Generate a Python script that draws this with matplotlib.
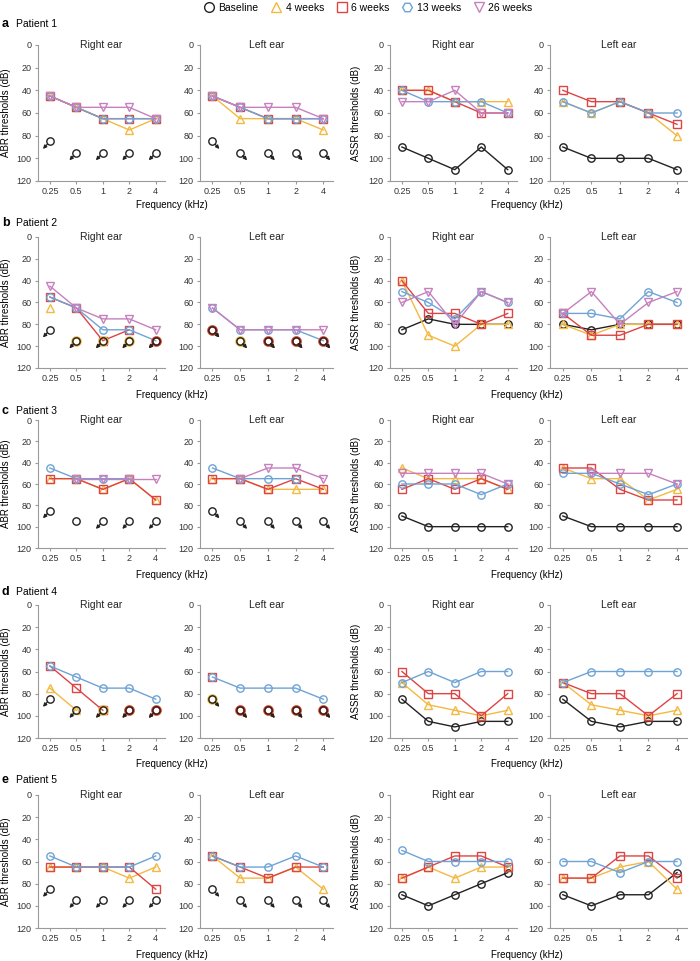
import matplotlib
matplotlib.use("Agg")
import matplotlib.pyplot as plt
import numpy as np
from matplotlib.lines import Line2D
from matplotlib.transforms import ScaledTranslation

plt.rcParams['font.family'] = ['Liberation Sans', 'DejaVu Sans']

freqs = ['0.25', '0.5', '1', '2', '4']
series = ['Baseline', '4 weeks', '6 weeks', '13 weeks', '26 weeks']
colors = {'Baseline': '#222222', '4 weeks': '#F4B942', '6 weeks': '#DD4444',
          '13 weeks': '#6FA3D6', '26 weeks': '#C680BD'}
markers = {'Baseline': 'o', '4 weeks': '^', '6 weeks': 's', '13 weeks': 'o', '26 weeks': 'v'}
N = None

# ---- Patient 1 ----
p1_abr_r = {'4 weeks': [45, 55, 65, 75, 65], '6 weeks': [45, 55, 65, 65, 65],
            '13 weeks': [45, 55, 65, 65, 65], '26 weeks': [45, 55, 55, 55, 65]}
p1_abr_r_nr = {'Baseline': [85, 95, 95, 95, 95]}
p1_abr_l = {'4 weeks': [45, 65, 65, 65, 75], '6 weeks': [45, 55, 65, 65, 65],
            '13 weeks': [45, 55, 65, 65, 65], '26 weeks': [45, 55, 55, 55, 65]}
p1_abr_l_nr = {'Baseline': [85, 95, 95, 95, 95]}
p1_assr_r = {'Baseline': [90, 100, 110, 90, 110], '4 weeks': [40, 40, 50, 50, 50],
             '6 weeks': [40, 40, 50, 60, 60], '13 weeks': [40, 50, 50, 50, 60],
             '26 weeks': [50, 50, 40, 60, 60]}
p1_assr_l = {'Baseline': [90, 100, 100, 100, 110], '4 weeks': [50, 60, 50, 60, 80],
             '6 weeks': [40, 50, 50, 60, 70], '13 weeks': [50, 60, 50, 60, 60]}

# ---- Patient 2 ----
p2_abr_r = {'4 weeks': [65, N, N, N, N], '6 weeks': [55, 65, 95, 85, N],
            '13 weeks': [55, 65, 85, 85, 95], '26 weeks': [45, 65, 75, 75, 85]}
p2_abr_r_nr = {'4 weeks': [N, 95, 95, 95, 95], '6 weeks': [N, N, N, N, 95],
               'Baseline': [85, 95, 95, 95, 95]}
p2_abr_l = {'13 weeks': [65, 85, 85, 85, 95], '26 weeks': [65, 85, 85, 85, 85]}
p2_abr_l_nr = {'4 weeks': [85, 95, 95, 95, 95], '6 weeks': [85, N, 95, 95, 95],
               'Baseline': [85, 95, 95, 95, 95]}
p2_assr_r = {'Baseline': [85, 75, 80, 80, 80], '4 weeks': [40, 90, 100, 80, 80],
             '6 weeks': [40, 70, 70, 80, 70], '13 weeks': [50, 60, 75, 50, 60],
             '26 weeks': [60, 50, 80, 50, 60]}
p2_assr_l = {'Baseline': [80, 85, 80, 80, 80], '4 weeks': [80, 90, 80, 80, 80],
             '6 weeks': [70, 90, 90, 80, 80], '13 weeks': [70, 70, 75, 50, 60],
             '26 weeks': [70, 50, 80, 60, 50]}

# ---- Patient 3 ----
p3_abr_r = {'Baseline': [N, 95, N, N, N], '4 weeks': [55, 55, 65, 55, 75],
            '6 weeks': [55, 55, 65, 55, 75], '13 weeks': [45, 55, 55, 55, N],
            '26 weeks': [N, 55, 55, 55, 55]}
p3_abr_r_nr = {'Baseline': [85, N, 95, 95, 95]}
p3_abr_l = {'4 weeks': [55, 55, 65, 65, 65], '6 weeks': [55, 55, 65, 55, 65],
            '13 weeks': [45, 55, 55, 55, N], '26 weeks': [N, 55, 45, 45, 55]}
p3_abr_l_nr = {'Baseline': [85, 95, 95, 95, 95]}
p3_assr_r = {'Baseline': [90, 100, 100, 100, 100], '4 weeks': [45, 55, 55, 55, 65],
             '6 weeks': [65, 55, 65, 55, 65], '13 weeks': [60, 60, 60, 70, 60],
             '26 weeks': [50, 50, 50, 50, 60]}
p3_assr_l = {'Baseline': [90, 100, 100, 100, 100], '4 weeks': [45, 55, 55, 75, 65],
             '6 weeks': [45, 45, 65, 75, 75], '13 weeks': [50, 50, 60, 70, 60],
             '26 weeks': [N, 50, 50, 50, 60]}

# ---- Patient 4 ----
p4_abr_r = {'4 weeks': [75, 95, N, N, N], '6 weeks': [55, 75, 95, N, N],
            '13 weeks': [55, 65, 75, 75, 85]}
p4_abr_r_nr = {'4 weeks': [N, N, 95, 95, 95], '6 weeks': [N, N, N, 95, 95],
               'Baseline': [85, 95, 95, 95, 95]}
p4_abr_l = {'6 weeks': [65, N, N, N, N], '13 weeks': [65, 75, 75, 75, 85]}
p4_abr_l_nr = {'4 weeks': [85, 95, 95, 95, 95], '6 weeks': [N, 95, 95, 95, 95],
               'Baseline': [85, 95, 95, 95, 95]}
p4_assr_r = {'Baseline': [85, 105, 110, 105, 105], '4 weeks': [70, 90, 95, 100, 95],
             '6 weeks': [60, 80, 80, 100, 80], '13 weeks': [70, 60, 70, 60, 60]}
p4_assr_l = {'Baseline': [85, 105, 110, 105, 105], '4 weeks': [70, 90, 95, 100, 95],
             '6 weeks': [70, 80, 80, 100, 80], '13 weeks': [70, 60, 60, 60, 60]}

# ---- Patient 5 ----
p5_abr_r = {'4 weeks': [65, 65, 65, 75, 65], '6 weeks': [65, 65, 65, 65, 85],
            '13 weeks': [55, 65, 65, 65, 55]}
p5_abr_r_nr = {'Baseline': [85, 95, 95, 95, 95]}
p5_abr_l = {'4 weeks': [55, 75, 75, 65, 85], '6 weeks': [55, 65, 75, 65, 65],
            '13 weeks': [55, 65, 65, 55, 65]}
p5_abr_l_nr = {'Baseline': [85, 95, 95, 95, 95]}
p5_assr_r = {'Baseline': [90, 100, 90, 80, 70], '4 weeks': [75, 65, 75, 65, 65],
             '6 weeks': [75, 65, 55, 55, 65], '13 weeks': [50, 60, 60, 60, 60]}
p5_assr_l = {'Baseline': [90, 100, 90, 90, 70], '4 weeks': [75, 75, 65, 60, 85],
             '6 weeks': [75, 75, 55, 55, 75], '13 weeks': [60, 60, 70, 60, 60]}

rows = [
    ('a', 'Patient 1', [(p1_abr_r, p1_abr_r_nr), (p1_abr_l, p1_abr_l_nr), (p1_assr_r, {}), (p1_assr_l, {})]),
    ('b', 'Patient 2', [(p2_abr_r, p2_abr_r_nr), (p2_abr_l, p2_abr_l_nr), (p2_assr_r, {}), (p2_assr_l, {})]),
    ('c', 'Patient 3', [(p3_abr_r, p3_abr_r_nr), (p3_abr_l, p3_abr_l_nr), (p3_assr_r, {}), (p3_assr_l, {})]),
    ('d', 'Patient 4', [(p4_abr_r, p4_abr_r_nr), (p4_abr_l, p4_abr_l_nr), (p4_assr_r, {}), (p4_assr_l, {})]),
    ('e', 'Patient 5', [(p5_abr_r, p5_abr_r_nr), (p5_abr_l, p5_abr_l_nr), (p5_assr_r, {}), (p5_assr_l, {})]),
]

W, H = 700, 961
fig = plt.figure(figsize=(W / 100, H / 100), dpi=100)

col_l = [38, 200, 390, 550]
col_r = [165, 333, 517, 687]
row_top = [45, 237, 420, 605, 795]
row_bot = [181, 368, 548, 738, 928]
label_y = [24, 223, 411, 592, 780]
freq_y = [205, 395, 575, 764, 955]
grey = '#9a9a9a'
x = np.arange(len(freqs))

for ri, (letter, pname, panels) in enumerate(rows):
    fig.text(2 / W, 1 - label_y[ri] / H, letter, fontsize=9, fontweight='bold', va='center')
    fig.text(16 / W, 1 - label_y[ri] / H, pname, fontsize=7.5, va='center')
    for ci, (data, nr) in enumerate(panels):
        l, r, t, b = col_l[ci], col_r[ci], row_top[ri], row_bot[ri]
        ax = fig.add_axes([l / W, 1 - b / H, (r - l) / W, (b - t) / H])
        ax.set_xlim(-0.45, 4.35)
        ax.set_ylim(120, 0)
        ax.set_yticks(range(0, 121, 20))
        ax.set_xticks(x)
        ax.set_xticklabels(freqs)
        for s in ['top', 'right']:
            ax.spines[s].set_visible(False)
        for s in ['left', 'bottom']:
            ax.spines[s].set_color(grey)
            ax.spines[s].set_linewidth(0.8)
        ax.tick_params(length=2.5, width=0.8, color=grey, labelsize=6.5, labelcolor='#333333', pad=2)
        ax.patch.set_alpha(0)
        ax.text(0.5, 1.0, 'Right ear' if ci % 2 == 0 else 'Left ear', transform=ax.transAxes,
                ha='center', va='center', fontsize=7.5, color='#222222')

        # measured thresholds
        for name in series:
            if name in data:
                y = np.array(data[name], dtype=float)
                ax.plot(x, y, color=colors[name], lw=1.0, marker=markers[name], ms=5.3,
                        mfc='none', mew=1.0, zorder=3 if name != 'Baseline' else 2)

        # no response markers (circle + arrow)
        dx = -5.0 if ci % 2 == 0 else 5.0
        for name, vals in nr.items():
            c = colors[name]
            big = name != 'Baseline'
            for xi, v in zip(x, vals):
                if v is None:
                    continue
                ax.plot([xi], [v], marker='o', ms=5.8 if big else 5.3, mfc='none', mec=c,
                        mew=1.8 if big else 1.0, zorder=4 if big else 5, linestyle='none')
                tr = ax.transData + ScaledTranslation(dx / 72, -5.5 / 72, fig.dpi_scale_trans)
                ax.annotate('', xy=(xi, v), xycoords=tr, xytext=(xi, v), textcoords='data',
                            arrowprops=dict(arrowstyle='-|>', color=c, lw=0.9, shrinkA=2.8,
                                            shrinkB=0, mutation_scale=5), zorder=5)
    fig.text(172 / W, 1 - freq_y[ri] / H, 'Frequency (kHz)', ha='center', va='center', fontsize=7)
    fig.text(527 / W, 1 - freq_y[ri] / H, 'Frequency (kHz)', ha='center', va='center', fontsize=7)
    cy = 1 - (row_top[ri] + row_bot[ri]) / 2 / H
    fig.text(6 / W, cy, 'ABR thresholds (dB)', rotation=90, ha='center', va='center', fontsize=7)
    fig.text(356 / W, cy, 'ASSR thresholds (dB)', rotation=90, ha='center', va='center', fontsize=7)

handles = []
for name in series:
    m = 'H' if name == '13 weeks' else markers[name]
    handles.append(Line2D([], [], linestyle='none', marker=m, ms=7, mfc='none',
                          mec=colors[name], mew=1.0, label=name))
fig.legend(handles=handles, loc='center', bbox_to_anchor=(0.525, 1 - 8 / H), ncol=5,
           frameon=False, fontsize=7.5, handletextpad=0.3, columnspacing=1.1, handlelength=1.2)

fig.savefig('out.png', dpi=100)
